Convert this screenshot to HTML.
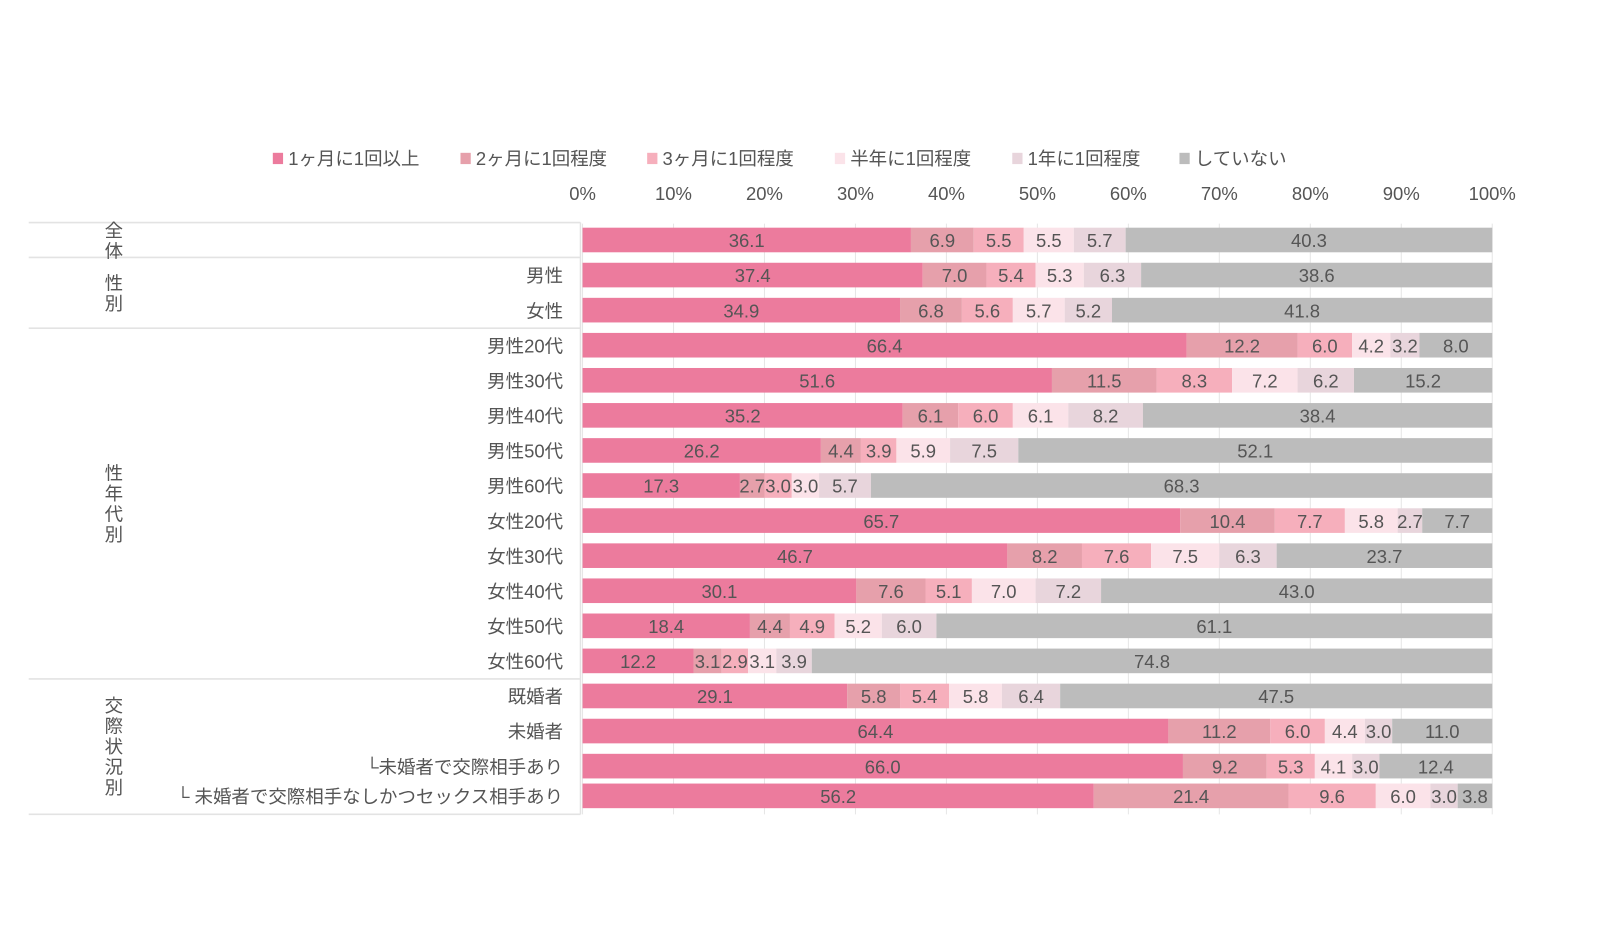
<!DOCTYPE html>
<html><head><meta charset="utf-8">
<style>
body{margin:0;background:#fff;}
svg text{font-family:"Liberation Sans","Noto Sans CJK JP",sans-serif;}
</style></head>
<body>
<svg width="1600" height="938" xmlns="http://www.w3.org/2000/svg"><g id="chart" transform="scale(1.0256)"></g></svg>
<script>
const categories=["","男性","女性","男性20代","男性30代","男性40代","男性50代","男性60代","女性20代","女性30代","女性40代","女性50代","女性60代","既婚者","未婚者","└未婚者で交際相手あり","└ 未婚者で交際相手なしかつセックス相手あり"];
const seriesNames=["1ヶ月に1回以上","2ヶ月に1回程度","3ヶ月に1回程度","半年に1回程度","1年に1回程度","していない"];
const s1=[36.1,37.4,34.9,66.4,51.6,35.2,26.2,17.3,65.7,46.7,30.1,18.4,12.2,29.1,64.4,66.0,56.2];
const s2=[6.9,7.0,6.8,12.2,11.5,6.1,4.4,2.7,10.4,8.2,7.6,4.4,3.1,5.8,11.2,9.2,21.4];
const s3=[5.5,5.4,5.6,6.0,8.3,6.0,3.9,3.0,7.7,7.6,5.1,4.9,2.9,5.4,6.0,5.3,9.6];
const s4=[5.5,5.3,5.7,4.2,7.2,6.1,5.9,3.0,5.8,7.5,7.0,5.2,3.1,5.8,4.4,4.1,6.0];
const s5=[5.7,6.3,5.2,3.2,6.2,8.2,7.5,5.7,2.7,6.3,7.2,6.0,3.9,6.4,3.0,3.0,3.0];
const s6=[40.3,38.6,41.8,8.0,15.2,38.4,52.1,68.3,7.7,23.7,43.0,61.1,74.8,47.5,11.0,12.4,3.8];
const tickLabels=["0%","10%","20%","30%","40%","50%","60%","70%","80%","90%","100%"];
const groups=[{label:"全体",from:0,to:0},{label:"性別",from:1,to:2},{label:"性年代別",from:3,to:12},{label:"交際状況別",from:13,to:16}];

const colors=["#ec7b9d","#e6a0ab","#f6afbc","#fbe3e9","#e8d5dc","#bcbcbc"];
const series=[s1,s2,s3,s4,s5,s6];
const svg=document.getElementById('chart');
const NS="http://www.w3.org/2000/svg";
function mk(t,a,p){const e=document.createElementNS(NS,t);for(const k in a)e.setAttribute(k,a[k]);(p||svg).appendChild(e);return e;}
const x0=568,x1=1455;
const xs=v=>x0+(x1-x0)*v/100;
const rowY=i=> i<16 ? 234+i*34.2 : 776;
const barH=24;
const legX=[266,449,631,814,987,1150];
seriesNames.forEach((n,i)=>{
 const g=mk('g',{});
 
 
 mk('rect',{x:legX[i],y:149,width:10,height:11,fill:colors[i]},g);
 const t=mk('text',{x:legX[i]+15,y:161,'font-size':18,fill:'#555'},g);t.textContent=n;
});
tickLabels.forEach((l,i)=>{
 const v=i*10;
 const ln=mk('line',{x1:xs(v),x2:xs(v),y1:218,y2:794,stroke:'#e6e6e6','stroke-width':1});
 
 
 const t=mk('text',{x:xs(v),y:195,'font-size':18,fill:'#555','text-anchor':'middle'});
 
 
 t.textContent=l;
});
[217,251,320,662,794].forEach(y=>{
 const l=mk('line',{x1:28,x2:566,y1:y,y2:y,stroke:'#e3e3e3','stroke-width':1.5});
 
 
});
mk('line',{x1:566,x2:566,y1:217,y2:794,stroke:'#e3e3e3','stroke-width':1.5});
groups.forEach(gr=>{
 const cy=(rowY(gr.from)+rowY(gr.to))/2;
 const chars=[...gr.label];
 const lh=20;
 const t=mk('text',{'font-size':18,fill:'#555','text-anchor':'middle'});
 
 
 chars.forEach((c,k)=>{const ts=mk('tspan',{x:111,y:cy-(chars.length-1)*lh/2+k*lh+7},t);ts.textContent=c;});
});
categories.forEach((c,i)=>{
 const cy=rowY(i);
 if(c){const t=mk('text',{x:549,y:cy+7,'font-size':18,fill:'#555','text-anchor':'end'});
  
  
  t.textContent=c;}
 let acc=0;
 series.forEach((s,k)=>{
  const v=s[i];
  const r=mk('rect',{x:xs(acc),y:cy-barH/2,width:xs(acc+v)-xs(acc),height:barH,fill:colors[k]});
  
  
  const t=mk('text',{x:(xs(acc)+xs(acc+v))/2,y:cy+7,'font-size':18,fill:'#555','text-anchor':'middle'});
  
  
  t.textContent=v.toFixed(1);
  acc+=v;
 });
});
</script>
</body></html>
